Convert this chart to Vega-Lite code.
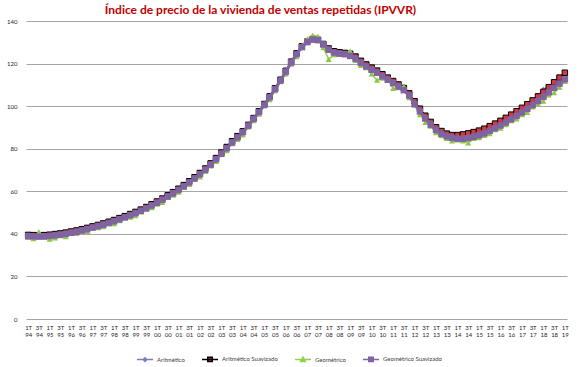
{
"$schema": "https://vega.github.io/schema/vega-lite/v6.json",
"width": 541, "height": 298,
"autosize": {"type": "none"},
"padding": {"left": 26, "top": 21, "right": 12, "bottom": 48},
"title": {"text": "Índice de precio de la vivienda de ventas repetidas (IPVVR)", "font": "Lato", "fontSize": 12, "fontWeight": "bold", "color": "#C00000", "dx": -36, "offset": 1},
"config": {"view": {"stroke": null}, "font": "Lato",
  "legend": {"orient": "none", "legendX": 110, "legendY": 329, "direction": "horizontal", "columns": 4, "symbolSize": 256, "symbolStrokeWidth": 1.5, "labelFontSize": 6, "labelColor": "#404040", "labelOffset": 3, "columnPadding": 14, "title": null}},
"data": {"values": [
{"t":"1T 94","s":"Aritmético","v":39.7},{"t":"2T 94","s":"Aritmético","v":39.1},{"t":"3T 94","s":"Aritmético","v":39.7},{"t":"4T 94","s":"Aritmético","v":39.2},
{"t":"1T 95","s":"Aritmético","v":39.2},{"t":"2T 95","s":"Aritmético","v":40.2},{"t":"3T 95","s":"Aritmético","v":40.0},{"t":"4T 95","s":"Aritmético","v":40.7},
{"t":"1T 96","s":"Aritmético","v":40.8},{"t":"2T 96","s":"Aritmético","v":41.8},{"t":"3T 96","s":"Aritmético","v":42.1},{"t":"4T 96","s":"Aritmético","v":43.1},
{"t":"1T 97","s":"Aritmético","v":43.3},{"t":"2T 97","s":"Aritmético","v":44.3},{"t":"3T 97","s":"Aritmético","v":44.6},{"t":"4T 97","s":"Aritmético","v":45.9},
{"t":"1T 98","s":"Aritmético","v":46.4},{"t":"2T 98","s":"Aritmético","v":47.7},{"t":"3T 98","s":"Aritmético","v":48.1},{"t":"4T 98","s":"Aritmético","v":49.4},
{"t":"1T 99","s":"Aritmético","v":50.0},{"t":"2T 99","s":"Aritmético","v":51.6},{"t":"3T 99","s":"Aritmético","v":52.5},{"t":"4T 99","s":"Aritmético","v":54.1},
{"t":"1T 00","s":"Aritmético","v":55.0},{"t":"2T 00","s":"Aritmético","v":56.7},{"t":"3T 00","s":"Aritmético","v":57.8},{"t":"4T 00","s":"Aritmético","v":59.8},
{"t":"1T 01","s":"Aritmético","v":61.1},{"t":"2T 01","s":"Aritmético","v":63.2},{"t":"3T 01","s":"Aritmético","v":64.5},{"t":"4T 01","s":"Aritmético","v":66.7},
{"t":"1T 02","s":"Aritmético","v":68.4},{"t":"2T 02","s":"Aritmético","v":70.9},{"t":"3T 02","s":"Aritmético","v":73.0},{"t":"4T 02","s":"Aritmético","v":75.8},
{"t":"1T 03","s":"Aritmético","v":77.9},{"t":"2T 03","s":"Aritmético","v":81.0},{"t":"3T 03","s":"Aritmético","v":83.4},{"t":"4T 03","s":"Aritmético","v":86.2},
{"t":"1T 04","s":"Aritmético","v":88.0},{"t":"2T 04","s":"Aritmético","v":91.4},{"t":"3T 04","s":"Aritmético","v":94.1},{"t":"4T 04","s":"Aritmético","v":97.7},
{"t":"1T 05","s":"Aritmético","v":100.8},{"t":"2T 05","s":"Aritmético","v":104.9},{"t":"3T 05","s":"Aritmético","v":108.3},{"t":"4T 05","s":"Aritmético","v":112.6},
{"t":"1T 06","s":"Aritmético","v":116.3},{"t":"2T 06","s":"Aritmético","v":121.1},{"t":"3T 06","s":"Aritmético","v":124.6},{"t":"4T 06","s":"Aritmético","v":128.5},
{"t":"1T 07","s":"Aritmético","v":130.6},{"t":"2T 07","s":"Aritmético","v":132.2},{"t":"3T 07","s":"Aritmético","v":131.4},{"t":"4T 07","s":"Aritmético","v":128.8},
{"t":"1T 08","s":"Aritmético","v":126.3},{"t":"2T 08","s":"Aritmético","v":126.0},{"t":"3T 08","s":"Aritmético","v":125.1},{"t":"4T 08","s":"Aritmético","v":125.3},
{"t":"1T 09","s":"Aritmético","v":125.4},{"t":"2T 09","s":"Aritmético","v":123.0},{"t":"3T 09","s":"Aritmético","v":121.5},{"t":"4T 09","s":"Aritmético","v":119.4},
{"t":"1T 10","s":"Aritmético","v":118.4},{"t":"2T 10","s":"Aritmético","v":116.2},{"t":"3T 10","s":"Aritmético","v":115.2},{"t":"4T 10","s":"Aritmético","v":113.8},
{"t":"1T 11","s":"Aritmético","v":111.4},{"t":"2T 11","s":"Aritmético","v":110.4},{"t":"3T 11","s":"Aritmético","v":109.5},{"t":"4T 11","s":"Aritmético","v":105.7},
{"t":"1T 12","s":"Aritmético","v":102.5},{"t":"2T 12","s":"Aritmético","v":98.5},{"t":"3T 12","s":"Aritmético","v":95.7},{"t":"4T 12","s":"Aritmético","v":92.4},
{"t":"1T 13","s":"Aritmético","v":90.4},{"t":"2T 13","s":"Aritmético","v":88.1},{"t":"3T 13","s":"Aritmético","v":87.3},{"t":"4T 13","s":"Aritmético","v":86.1},
{"t":"1T 14","s":"Aritmético","v":86.6},{"t":"2T 14","s":"Aritmético","v":86.3},{"t":"3T 14","s":"Aritmético","v":87.4},{"t":"4T 14","s":"Aritmético","v":87.6},
{"t":"1T 15","s":"Aritmético","v":88.8},{"t":"2T 15","s":"Aritmético","v":89.3},{"t":"3T 15","s":"Aritmético","v":90.8},{"t":"4T 15","s":"Aritmético","v":91.5},
{"t":"1T 16","s":"Aritmético","v":93.5},{"t":"2T 16","s":"Aritmético","v":94.3},{"t":"3T 16","s":"Aritmético","v":96.3},{"t":"4T 16","s":"Aritmético","v":97.4},
{"t":"1T 17","s":"Aritmético","v":99.7},{"t":"2T 17","s":"Aritmético","v":100.6},{"t":"3T 17","s":"Aritmético","v":103.1},{"t":"4T 17","s":"Aritmético","v":104.4},
{"t":"1T 18","s":"Aritmético","v":108.2},{"t":"2T 18","s":"Aritmético","v":108.6},{"t":"3T 18","s":"Aritmético","v":111.5},{"t":"4T 18","s":"Aritmético","v":113.2},
{"t":"1T 19","s":"Aritmético","v":115.8},
{"t":"1T 94","s":"Aritmético Suavizado","v":39.5},{"t":"2T 94","s":"Aritmético Suavizado","v":39.4},{"t":"3T 94","s":"Aritmético Suavizado","v":39.3},{"t":"4T 94","s":"Aritmético Suavizado","v":39.4},
{"t":"1T 95","s":"Aritmético Suavizado","v":39.6},{"t":"2T 95","s":"Aritmético Suavizado","v":39.9},{"t":"3T 95","s":"Aritmético Suavizado","v":40.2},{"t":"4T 95","s":"Aritmético Suavizado","v":40.6},
{"t":"1T 96","s":"Aritmético Suavizado","v":41.1},{"t":"2T 96","s":"Aritmético Suavizado","v":41.6},{"t":"3T 96","s":"Aritmético Suavizado","v":42.2},{"t":"4T 96","s":"Aritmético Suavizado","v":42.8},
{"t":"1T 97","s":"Aritmético Suavizado","v":43.5},{"t":"2T 97","s":"Aritmético Suavizado","v":44.2},{"t":"3T 97","s":"Aritmético Suavizado","v":44.9},{"t":"4T 97","s":"Aritmético Suavizado","v":45.7},
{"t":"1T 98","s":"Aritmético Suavizado","v":46.5},{"t":"2T 98","s":"Aritmético Suavizado","v":47.4},{"t":"3T 98","s":"Aritmético Suavizado","v":48.3},{"t":"4T 98","s":"Aritmético Suavizado","v":49.3},
{"t":"1T 99","s":"Aritmético Suavizado","v":50.3},{"t":"2T 99","s":"Aritmético Suavizado","v":51.4},{"t":"3T 99","s":"Aritmético Suavizado","v":52.6},{"t":"4T 99","s":"Aritmético Suavizado","v":53.9},
{"t":"1T 00","s":"Aritmético Suavizado","v":55.2},{"t":"2T 00","s":"Aritmético Suavizado","v":56.6},{"t":"3T 00","s":"Aritmético Suavizado","v":58.1},{"t":"4T 00","s":"Aritmético Suavizado","v":59.6},
{"t":"1T 01","s":"Aritmético Suavizado","v":61.2},{"t":"2T 01","s":"Aritmético Suavizado","v":62.9},{"t":"3T 01","s":"Aritmético Suavizado","v":64.7},{"t":"4T 01","s":"Aritmético Suavizado","v":66.6},
{"t":"1T 02","s":"Aritmético Suavizado","v":68.6},{"t":"2T 02","s":"Aritmético Suavizado","v":70.7},{"t":"3T 02","s":"Aritmético Suavizado","v":73.1},{"t":"4T 02","s":"Aritmético Suavizado","v":75.6},
{"t":"1T 03","s":"Aritmético Suavizado","v":78.2},{"t":"2T 03","s":"Aritmético Suavizado","v":80.8},{"t":"3T 03","s":"Aritmético Suavizado","v":83.5},{"t":"4T 03","s":"Aritmético Suavizado","v":85.9},
{"t":"1T 04","s":"Aritmético Suavizado","v":88.2},{"t":"2T 04","s":"Aritmético Suavizado","v":91.2},{"t":"3T 04","s":"Aritmético Suavizado","v":94.4},{"t":"4T 04","s":"Aritmético Suavizado","v":97.6},
{"t":"1T 05","s":"Aritmético Suavizado","v":101.0},{"t":"2T 05","s":"Aritmético Suavizado","v":104.6},{"t":"3T 05","s":"Aritmético Suavizado","v":108.4},{"t":"4T 05","s":"Aritmético Suavizado","v":112.4},
{"t":"1T 06","s":"Aritmético Suavizado","v":116.6},{"t":"2T 06","s":"Aritmético Suavizado","v":120.9},{"t":"3T 06","s":"Aritmético Suavizado","v":124.8},{"t":"4T 06","s":"Aritmético Suavizado","v":128.1},
{"t":"1T 07","s":"Aritmético Suavizado","v":130.3},{"t":"2T 07","s":"Aritmético Suavizado","v":131.5},{"t":"3T 07","s":"Aritmético Suavizado","v":131.2},{"t":"4T 07","s":"Aritmético Suavizado","v":129.2},
{"t":"1T 08","s":"Aritmético Suavizado","v":127.1},{"t":"2T 08","s":"Aritmético Suavizado","v":125.8},{"t":"3T 08","s":"Aritmético Suavizado","v":125.3},{"t":"4T 08","s":"Aritmético Suavizado","v":125.0},
{"t":"1T 09","s":"Aritmético Suavizado","v":124.6},{"t":"2T 09","s":"Aritmético Suavizado","v":123.3},{"t":"3T 09","s":"Aritmético Suavizado","v":121.3},{"t":"4T 09","s":"Aritmético Suavizado","v":119.6},
{"t":"1T 10","s":"Aritmético Suavizado","v":118.1},{"t":"2T 10","s":"Aritmético Suavizado","v":116.7},{"t":"3T 10","s":"Aritmético Suavizado","v":115.0},{"t":"4T 10","s":"Aritmético Suavizado","v":113.4},
{"t":"1T 11","s":"Aritmético Suavizado","v":111.8},{"t":"2T 11","s":"Aritmético Suavizado","v":110.2},{"t":"3T 11","s":"Aritmético Suavizado","v":108.5},{"t":"4T 11","s":"Aritmético Suavizado","v":106.0},
{"t":"1T 12","s":"Aritmético Suavizado","v":102.3},{"t":"2T 12","s":"Aritmético Suavizado","v":98.8},{"t":"3T 12","s":"Aritmético Suavizado","v":95.5},{"t":"4T 12","s":"Aritmético Suavizado","v":92.6},
{"t":"1T 13","s":"Aritmético Suavizado","v":90.1},{"t":"2T 13","s":"Aritmético Suavizado","v":88.3},{"t":"3T 13","s":"Aritmético Suavizado","v":87.1},{"t":"4T 13","s":"Aritmético Suavizado","v":86.4},
{"t":"1T 14","s":"Aritmético Suavizado","v":86.4},{"t":"2T 14","s":"Aritmético Suavizado","v":86.7},{"t":"3T 14","s":"Aritmético Suavizado","v":87.2},{"t":"4T 14","s":"Aritmético Suavizado","v":87.8},
{"t":"1T 15","s":"Aritmético Suavizado","v":88.5},{"t":"2T 15","s":"Aritmético Suavizado","v":89.4},{"t":"3T 15","s":"Aritmético Suavizado","v":90.6},{"t":"4T 15","s":"Aritmético Suavizado","v":91.8},
{"t":"1T 16","s":"Aritmético Suavizado","v":93.1},{"t":"2T 16","s":"Aritmético Suavizado","v":94.5},{"t":"3T 16","s":"Aritmético Suavizado","v":96.0},{"t":"4T 16","s":"Aritmético Suavizado","v":97.6},
{"t":"1T 17","s":"Aritmético Suavizado","v":99.2},{"t":"2T 17","s":"Aritmético Suavizado","v":100.9},{"t":"3T 17","s":"Aritmético Suavizado","v":102.7},{"t":"4T 17","s":"Aritmético Suavizado","v":104.6},
{"t":"1T 18","s":"Aritmético Suavizado","v":106.7},{"t":"2T 18","s":"Aritmético Suavizado","v":108.9},{"t":"3T 18","s":"Aritmético Suavizado","v":111.2},{"t":"4T 18","s":"Aritmético Suavizado","v":113.4},
{"t":"1T 19","s":"Aritmético Suavizado","v":115.7},
{"t":"1T 94","s":"Geométrico","v":38.4},{"t":"2T 94","s":"Geométrico","v":37.8},{"t":"3T 94","s":"Geométrico","v":41.0},{"t":"4T 94","s":"Geométrico","v":38.5},
{"t":"1T 95","s":"Geométrico","v":37.5},{"t":"2T 95","s":"Geométrico","v":38.1},{"t":"3T 95","s":"Geométrico","v":39.1},{"t":"4T 95","s":"Geométrico","v":38.7},
{"t":"1T 96","s":"Geométrico","v":40.3},{"t":"2T 96","s":"Geométrico","v":40.2},{"t":"3T 96","s":"Geométrico","v":41.2},{"t":"4T 96","s":"Geométrico","v":41.2},
{"t":"1T 97","s":"Geométrico","v":43.2},{"t":"2T 97","s":"Geométrico","v":42.9},{"t":"3T 97","s":"Geométrico","v":43.4},{"t":"4T 97","s":"Geométrico","v":44.8},
{"t":"1T 98","s":"Geométrico","v":44.8},{"t":"2T 98","s":"Geométrico","v":46.2},{"t":"3T 98","s":"Geométrico","v":47.9},{"t":"4T 98","s":"Geométrico","v":47.8},
{"t":"1T 99","s":"Geométrico","v":48.5},{"t":"2T 99","s":"Geométrico","v":50.3},{"t":"3T 99","s":"Geométrico","v":51.6},{"t":"4T 99","s":"Geométrico","v":52.3},
{"t":"1T 00","s":"Geométrico","v":54.0},{"t":"2T 00","s":"Geométrico","v":54.8},{"t":"3T 00","s":"Geométrico","v":57.2},{"t":"4T 00","s":"Geométrico","v":58.2},
{"t":"1T 01","s":"Geométrico","v":59.6},{"t":"2T 01","s":"Geométrico","v":61.8},{"t":"3T 01","s":"Geométrico","v":63.2},{"t":"4T 01","s":"Geométrico","v":65.6},
{"t":"1T 02","s":"Geométrico","v":66.8},{"t":"2T 02","s":"Geométrico","v":69.4},{"t":"3T 02","s":"Geométrico","v":71.9},{"t":"4T 02","s":"Geométrico","v":74.0},
{"t":"1T 03","s":"Geométrico","v":77.3},{"t":"2T 03","s":"Geométrico","v":79.1},{"t":"3T 03","s":"Geométrico","v":82.4},{"t":"4T 03","s":"Geométrico","v":84.4},
{"t":"1T 04","s":"Geométrico","v":86.5},{"t":"2T 04","s":"Geométrico","v":90.2},{"t":"3T 04","s":"Geométrico","v":93.2},{"t":"4T 04","s":"Geométrico","v":96.2},
{"t":"1T 05","s":"Geométrico","v":100.2},{"t":"2T 05","s":"Geométrico","v":103.0},{"t":"3T 05","s":"Geométrico","v":107.3},{"t":"4T 05","s":"Geométrico","v":111.5},
{"t":"1T 06","s":"Geométrico","v":115.2},{"t":"2T 06","s":"Geométrico","v":119.7},{"t":"3T 06","s":"Geométrico","v":123.2},{"t":"4T 06","s":"Geométrico","v":128.5},
{"t":"1T 07","s":"Geométrico","v":131.6},{"t":"2T 07","s":"Geométrico","v":133.3},{"t":"3T 07","s":"Geométrico","v":132.8},{"t":"4T 07","s":"Geométrico","v":127.5},
{"t":"1T 08","s":"Geométrico","v":122.0},{"t":"2T 08","s":"Geométrico","v":124.2},{"t":"3T 08","s":"Geométrico","v":124.4},{"t":"4T 08","s":"Geométrico","v":124.9},
{"t":"1T 09","s":"Geométrico","v":125.9},{"t":"2T 09","s":"Geométrico","v":121.5},{"t":"3T 09","s":"Geométrico","v":119.1},{"t":"4T 09","s":"Geométrico","v":118.1},
{"t":"1T 10","s":"Geométrico","v":115.1},{"t":"2T 10","s":"Geométrico","v":112.2},{"t":"3T 10","s":"Geométrico","v":113.2},{"t":"4T 10","s":"Geométrico","v":112.9},
{"t":"1T 11","s":"Geométrico","v":108.3},{"t":"2T 11","s":"Geométrico","v":108.7},{"t":"3T 11","s":"Geométrico","v":109.3},{"t":"4T 11","s":"Geométrico","v":104.0},
{"t":"1T 12","s":"Geométrico","v":100.5},{"t":"2T 12","s":"Geométrico","v":96.0},{"t":"3T 12","s":"Geométrico","v":92.4},{"t":"4T 12","s":"Geométrico","v":90.6},
{"t":"1T 13","s":"Geométrico","v":87.6},{"t":"2T 13","s":"Geométrico","v":86.1},{"t":"3T 13","s":"Geométrico","v":84.8},{"t":"4T 13","s":"Geométrico","v":83.7},
{"t":"1T 14","s":"Geométrico","v":84.1},{"t":"2T 14","s":"Geométrico","v":83.7},{"t":"3T 14","s":"Geométrico","v":82.7},{"t":"4T 14","s":"Geométrico","v":84.8},
{"t":"1T 15","s":"Geométrico","v":85.2},{"t":"2T 15","s":"Geométrico","v":86.3},{"t":"3T 15","s":"Geométrico","v":87.1},{"t":"4T 15","s":"Geométrico","v":88.9},
{"t":"1T 16","s":"Geométrico","v":89.7},{"t":"2T 16","s":"Geométrico","v":91.3},{"t":"3T 16","s":"Geométrico","v":93.2},{"t":"4T 16","s":"Geométrico","v":94.0},
{"t":"1T 17","s":"Geométrico","v":96.0},{"t":"2T 17","s":"Geométrico","v":97.1},{"t":"3T 17","s":"Geométrico","v":99.7},{"t":"4T 17","s":"Geométrico","v":100.9},
{"t":"1T 18","s":"Geométrico","v":102.4},{"t":"2T 18","s":"Geométrico","v":105.3},{"t":"3T 18","s":"Geométrico","v":106.3},{"t":"4T 18","s":"Geométrico","v":108.9},
{"t":"1T 19","s":"Geométrico","v":111.6},
{"t":"1T 94","s":"Geométrico Suavizado","v":38.9},{"t":"2T 94","s":"Geométrico Suavizado","v":38.8},{"t":"3T 94","s":"Geométrico Suavizado","v":38.7},{"t":"4T 94","s":"Geométrico Suavizado","v":38.8},
{"t":"1T 95","s":"Geométrico Suavizado","v":39.0},{"t":"2T 95","s":"Geométrico Suavizado","v":39.3},{"t":"3T 95","s":"Geométrico Suavizado","v":39.6},{"t":"4T 95","s":"Geométrico Suavizado","v":40.0},
{"t":"1T 96","s":"Geométrico Suavizado","v":40.5},{"t":"2T 96","s":"Geométrico Suavizado","v":41.0},{"t":"3T 96","s":"Geométrico Suavizado","v":41.6},{"t":"4T 96","s":"Geométrico Suavizado","v":42.2},
{"t":"1T 97","s":"Geométrico Suavizado","v":42.9},{"t":"2T 97","s":"Geométrico Suavizado","v":43.6},{"t":"3T 97","s":"Geométrico Suavizado","v":44.3},{"t":"4T 97","s":"Geométrico Suavizado","v":45.1},
{"t":"1T 98","s":"Geométrico Suavizado","v":45.9},{"t":"2T 98","s":"Geométrico Suavizado","v":46.8},{"t":"3T 98","s":"Geométrico Suavizado","v":47.7},{"t":"4T 98","s":"Geométrico Suavizado","v":48.7},
{"t":"1T 99","s":"Geométrico Suavizado","v":49.7},{"t":"2T 99","s":"Geométrico Suavizado","v":50.8},{"t":"3T 99","s":"Geométrico Suavizado","v":52.0},{"t":"4T 99","s":"Geométrico Suavizado","v":53.3},
{"t":"1T 00","s":"Geométrico Suavizado","v":54.6},{"t":"2T 00","s":"Geométrico Suavizado","v":56.0},{"t":"3T 00","s":"Geométrico Suavizado","v":57.5},{"t":"4T 00","s":"Geométrico Suavizado","v":59.0},
{"t":"1T 01","s":"Geométrico Suavizado","v":60.6},{"t":"2T 01","s":"Geométrico Suavizado","v":62.3},{"t":"3T 01","s":"Geométrico Suavizado","v":64.1},{"t":"4T 01","s":"Geométrico Suavizado","v":66.0},
{"t":"1T 02","s":"Geométrico Suavizado","v":68.0},{"t":"2T 02","s":"Geométrico Suavizado","v":70.1},{"t":"3T 02","s":"Geométrico Suavizado","v":72.5},{"t":"4T 02","s":"Geométrico Suavizado","v":75.0},
{"t":"1T 03","s":"Geométrico Suavizado","v":77.6},{"t":"2T 03","s":"Geométrico Suavizado","v":80.2},{"t":"3T 03","s":"Geométrico Suavizado","v":82.9},{"t":"4T 03","s":"Geométrico Suavizado","v":85.3},
{"t":"1T 04","s":"Geométrico Suavizado","v":87.8},{"t":"2T 04","s":"Geométrico Suavizado","v":90.8},{"t":"3T 04","s":"Geométrico Suavizado","v":94.0},{"t":"4T 04","s":"Geométrico Suavizado","v":97.2},
{"t":"1T 05","s":"Geométrico Suavizado","v":100.6},{"t":"2T 05","s":"Geométrico Suavizado","v":104.2},{"t":"3T 05","s":"Geométrico Suavizado","v":108.0},{"t":"4T 05","s":"Geométrico Suavizado","v":112.0},
{"t":"1T 06","s":"Geométrico Suavizado","v":116.2},{"t":"2T 06","s":"Geométrico Suavizado","v":120.5},{"t":"3T 06","s":"Geométrico Suavizado","v":124.4},{"t":"4T 06","s":"Geométrico Suavizado","v":127.7},
{"t":"1T 07","s":"Geométrico Suavizado","v":130.1},{"t":"2T 07","s":"Geométrico Suavizado","v":131.3},{"t":"3T 07","s":"Geométrico Suavizado","v":131.0},{"t":"4T 07","s":"Geométrico Suavizado","v":129.0},
{"t":"1T 08","s":"Geométrico Suavizado","v":126.5},{"t":"2T 08","s":"Geométrico Suavizado","v":125.2},{"t":"3T 08","s":"Geométrico Suavizado","v":124.7},{"t":"4T 08","s":"Geométrico Suavizado","v":124.4},
{"t":"1T 09","s":"Geométrico Suavizado","v":123.6},{"t":"2T 09","s":"Geométrico Suavizado","v":122.3},{"t":"3T 09","s":"Geométrico Suavizado","v":120.3},{"t":"4T 09","s":"Geométrico Suavizado","v":118.6},
{"t":"1T 10","s":"Geométrico Suavizado","v":117.1},{"t":"2T 10","s":"Geométrico Suavizado","v":115.7},{"t":"3T 10","s":"Geométrico Suavizado","v":114.0},{"t":"4T 10","s":"Geométrico Suavizado","v":112.4},
{"t":"1T 11","s":"Geométrico Suavizado","v":110.8},{"t":"2T 11","s":"Geométrico Suavizado","v":109.2},{"t":"3T 11","s":"Geométrico Suavizado","v":107.5},{"t":"4T 11","s":"Geométrico Suavizado","v":105.0},
{"t":"1T 12","s":"Geométrico Suavizado","v":101.0},{"t":"2T 12","s":"Geométrico Suavizado","v":97.5},{"t":"3T 12","s":"Geométrico Suavizado","v":94.2},{"t":"4T 12","s":"Geométrico Suavizado","v":91.3},
{"t":"1T 13","s":"Geométrico Suavizado","v":88.8},{"t":"2T 13","s":"Geométrico Suavizado","v":87.0},{"t":"3T 13","s":"Geométrico Suavizado","v":85.8},{"t":"4T 13","s":"Geométrico Suavizado","v":85.1},
{"t":"1T 14","s":"Geométrico Suavizado","v":84.7},{"t":"2T 14","s":"Geométrico Suavizado","v":84.7},{"t":"3T 14","s":"Geométrico Suavizado","v":85.0},{"t":"4T 14","s":"Geométrico Suavizado","v":85.6},
{"t":"1T 15","s":"Geométrico Suavizado","v":86.3},{"t":"2T 15","s":"Geométrico Suavizado","v":87.2},{"t":"3T 15","s":"Geométrico Suavizado","v":88.4},{"t":"4T 15","s":"Geométrico Suavizado","v":89.6},
{"t":"1T 16","s":"Geométrico Suavizado","v":90.9},{"t":"2T 16","s":"Geométrico Suavizado","v":92.3},{"t":"3T 16","s":"Geométrico Suavizado","v":93.8},{"t":"4T 16","s":"Geométrico Suavizado","v":95.4},
{"t":"1T 17","s":"Geométrico Suavizado","v":97.0},{"t":"2T 17","s":"Geométrico Suavizado","v":98.7},{"t":"3T 17","s":"Geométrico Suavizado","v":100.5},{"t":"4T 17","s":"Geométrico Suavizado","v":102.4},
{"t":"1T 18","s":"Geométrico Suavizado","v":104.4},{"t":"2T 18","s":"Geométrico Suavizado","v":106.5},{"t":"3T 18","s":"Geométrico Suavizado","v":108.6},{"t":"4T 18","s":"Geométrico Suavizado","v":110.6},
{"t":"1T 19","s":"Geométrico Suavizado","v":112.6}
]},
"encoding": {
  "x": {"field": "t", "type": "ordinal", "sort": null, "scale": {"type": "point", "padding": 0.4},
        "axis": {"title": null, "domain": false, "ticks": false, "grid": false, "labelAngle": 0, "labelOverlap": false, "labelFontSize": 6, "labelColor": "#262626", "labelLineHeight": 7.5, "labelPadding": 5, "labelBaseline": "top",
                 "labelExpr": "indexof(datum.value, '1T') == 0 || indexof(datum.value, '3T') == 0 ? split(datum.value, ' ') : ''"}},
  "y": {"field": "v", "type": "quantitative", "scale": {"domain": [0, 140], "nice": false},
        "axis": {"title": null, "domain": false, "ticks": false, "values": [0, 20, 40, 60, 80, 100, 120, 140], "labelFontSize": 6, "labelColor": "#262626", "labelPadding": 9, "gridColor": "#A6A6A6", "gridWidth": 1.2}}
},
"layer": [
  {"transform": [{"filter": "datum.s == 'Aritmético'"}], "mark": {"type": "line", "stroke": "#7B7BC0", "strokeWidth": 1.5}},
  {"transform": [{"filter": "datum.s == 'Aritmético'"}], "mark": {"type": "point", "shape": "diamond", "filled": true, "size": 16, "color": "#7B7BC0", "opacity": 1}},
  {"transform": [{"filter": "datum.s == 'Aritmético Suavizado'"}], "mark": {"type": "line", "stroke": "#000000", "strokeWidth": 1.5}},
  {"transform": [{"filter": "datum.s == 'Aritmético Suavizado'"}], "mark": {"type": "point", "shape": "square", "filled": true, "size": 30, "fill": "#D13B46", "stroke": "#000000", "strokeWidth": 1, "opacity": 1}},
  {"transform": [{"filter": "datum.s == 'Geométrico'"}], "mark": {"type": "line", "stroke": "#92D050", "strokeWidth": 1.5}},
  {"transform": [{"filter": "datum.s == 'Geométrico'"}], "mark": {"type": "point", "shape": "triangle-up", "filled": true, "size": 36, "color": "#8DC63F", "opacity": 1}},
  {"transform": [{"filter": "datum.s == 'Geométrico Suavizado'"}], "mark": {"type": "line", "stroke": "#8064A2", "strokeWidth": 3}},
  {"transform": [{"filter": "datum.s == 'Geométrico Suavizado'"}], "mark": {"type": "point", "shape": "square", "filled": true, "size": 42, "color": "#8064A2", "opacity": 1}},
  {"transform": [{"filter": "false"}], "mark": {"type": "point", "filled": true, "opacity": 1},
   "encoding": {
     "shape": {"field": "s", "type": "nominal", "scale": {"domain": ["Aritmético", "Aritmético Suavizado", "Geométrico", "Geométrico Suavizado"], "range": ["M-1,0H1M0,-0.22L0.22,0L0,0.22L-0.22,0Z", "M-1,0H1M-0.28,-0.28H0.28V0.28H-0.28Z", "M-1,0H1M0,-0.32L0.3,0.22H-0.3Z", "M-1,0H1M-0.28,-0.28H0.28V0.28H-0.28Z"]}},
     "fill": {"field": "s", "type": "nominal", "scale": {"domain": ["Aritmético", "Aritmético Suavizado", "Geométrico", "Geométrico Suavizado"], "range": ["#7B7BC0", "#D13B46", "#8DC63F", "#8064A2"]}},
     "stroke": {"field": "s", "type": "nominal", "scale": {"domain": ["Aritmético", "Aritmético Suavizado", "Geométrico", "Geométrico Suavizado"], "range": ["#7B7BC0", "#000000", "#92D050", "#8064A2"]}}
   }}
]
}
